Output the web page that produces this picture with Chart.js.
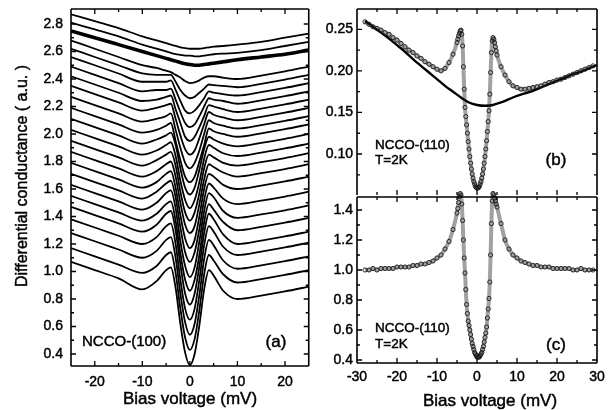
<!DOCTYPE html>
<html>
<head>
<meta charset="utf-8">
<script src="https://cdn.jsdelivr.net/npm/chart.js@4.4.1/dist/chart.umd.min.js"></script>
<style>
html,body{margin:0;padding:0;background:#fff;}
#wrap{position:relative;width:613px;height:410px;overflow:hidden;background:#fff;}
#wrap canvas{position:absolute;}
</style>
</head>
<body>
<div id="wrap">
<canvas id="cA" width="313" height="410" style="left:0;top:0"></canvas>
<canvas id="cB" width="313" height="200" style="left:300px;top:0"></canvas>
<canvas id="cC" width="313" height="220" style="left:300px;top:190px"></canvas>
</div>
<script>
// ---------- Panel (a): NCCO-(100) spectra, bottom curve first ----------
const biasA = [-25,-20,-15,-10,-7,-5,-4,-3,-2,-1,0,1,2,3,4,5,7,10,15,20,25];
const gA00 = [1.07,1.01,0.95,0.87,0.93,1.01,1.03,0.88,0.62,0.41,0.32,0.40,0.61,0.87,1.01,0.97,0.86,0.80,0.825,0.855,0.89];
const gA01 = [1.17,1.11,1.05,0.99,1.04,1.12,1.14,0.99,0.73,0.52,0.43,0.51,0.72,0.98,1.12,1.08,0.98,0.92,0.945,0.975,1.01];
const gA02 = [1.28,1.22,1.16,1.10,1.15,1.23,1.25,1.10,0.84,0.63,0.54,0.62,0.83,1.09,1.23,1.19,1.08,1.02,1.045,1.075,1.11];
const gA03 = [1.38,1.32,1.26,1.20,1.25,1.33,1.35,1.20,0.94,0.73,0.65,0.73,0.94,1.19,1.33,1.29,1.18,1.12,1.145,1.175,1.21];
const gA04 = [1.47,1.41,1.35,1.29,1.34,1.42,1.44,1.30,1.05,0.84,0.76,0.84,1.04,1.28,1.42,1.38,1.27,1.20,1.225,1.255,1.29];
const gA05 = [1.55,1.49,1.43,1.37,1.42,1.49,1.51,1.37,1.13,0.94,0.86,0.94,1.12,1.36,1.49,1.45,1.36,1.30,1.325,1.355,1.39];
const gA06 = [1.63,1.57,1.51,1.45,1.50,1.57,1.59,1.46,1.22,1.04,0.96,1.03,1.22,1.44,1.57,1.54,1.44,1.39,1.415,1.445,1.48];
const gA07 = [1.71,1.65,1.59,1.53,1.58,1.64,1.66,1.54,1.32,1.14,1.07,1.14,1.31,1.52,1.64,1.61,1.53,1.49,1.515,1.545,1.58];
const gA08 = [1.79,1.73,1.67,1.61,1.65,1.71,1.73,1.61,1.41,1.24,1.17,1.23,1.40,1.60,1.71,1.69,1.63,1.60,1.625,1.655,1.69];
const gA09 = [1.87,1.81,1.75,1.69,1.73,1.78,1.80,1.69,1.50,1.34,1.28,1.33,1.49,1.67,1.78,1.76,1.72,1.69,1.715,1.745,1.78];
const gA10 = [1.95,1.89,1.83,1.77,1.81,1.85,1.87,1.77,1.58,1.43,1.37,1.43,1.57,1.75,1.85,1.83,1.79,1.77,1.795,1.825,1.86];
const gA11 = [2.03,1.97,1.91,1.85,1.88,1.92,1.94,1.84,1.66,1.52,1.46,1.52,1.65,1.82,1.92,1.90,1.86,1.84,1.865,1.895,1.93];
const gA12 = [2.11,2.05,1.99,1.93,1.96,1.99,2.01,1.92,1.75,1.61,1.56,1.61,1.74,1.89,1.98,1.96,1.93,1.91,1.935,1.965,2.00];
const gA13 = [2.19,2.13,2.07,2.01,2.03,2.06,2.08,1.95,1.81,1.69,1.65,1.69,1.80,1.92,2.04,2.02,2.00,1.98,2.005,2.035,2.07];
const gA14 = [2.27,2.21,2.15,2.09,2.11,2.13,2.15,2.03,1.90,1.79,1.75,1.79,1.88,2.00,2.10,2.08,2.06,2.04,2.065,2.095,2.13];
const gA15 = [2.35,2.29,2.23,2.17,2.19,2.21,2.22,2.11,1.99,1.89,1.85,1.88,1.97,2.07,2.16,2.14,2.12,2.10,2.125,2.155,2.19];
const gA16 = [2.42,2.36,2.30,2.24,2.25,2.27,2.28,2.18,2.08,1.98,1.95,1.98,2.05,2.13,2.21,2.20,2.18,2.16,2.185,2.215,2.25];
const gA17 = [2.49,2.43,2.37,2.31,2.32,2.32,2.33,2.25,2.16,2.08,2.05,2.07,2.13,2.20,2.26,2.25,2.24,2.22,2.245,2.275,2.31];
const gA18 = [2.56,2.50,2.44,2.38,2.38,2.38,2.39,2.32,2.24,2.17,2.15,2.17,2.21,2.26,2.31,2.30,2.29,2.28,2.305,2.335,2.37];
const gA19 = [2.62,2.56,2.50,2.44,2.43,2.43,2.43,2.38,2.32,2.28,2.26,2.27,2.30,2.33,2.36,2.355,2.35,2.34,2.365,2.395,2.43];
const gA20 = [2.68,2.62,2.56,2.50,2.48,2.46,2.45,2.43,2.41,2.385,2.37,2.375,2.39,2.41,2.42,2.42,2.41,2.40,2.425,2.455,2.49];
const gA21 = [2.75,2.70,2.65,2.60,2.57,2.55,2.54,2.53,2.52,2.51,2.505,2.50,2.50,2.505,2.51,2.515,2.525,2.54,2.56,2.58,2.61];
const gA22 = [2.81,2.76,2.71,2.65,2.62,2.60,2.59,2.58,2.575,2.57,2.57,2.565,2.565,2.57,2.575,2.58,2.585,2.59,2.61,2.64,2.67];
const gA23 = [2.87,2.82,2.77,2.71,2.68,2.66,2.65,2.64,2.63,2.625,2.62,2.62,2.62,2.625,2.63,2.635,2.64,2.65,2.67,2.70,2.73];
const curvesA = [gA00,gA01,gA02,gA03,gA04,gA05,gA06,gA07,gA08,gA09,gA10,gA11,gA12,gA13,gA14,gA15,gA16,gA17,gA18,gA19,gA20,gA21,gA22,gA23];
const thickCurveA = 21;
const xTicksA = [-20,-10,0,10,20];
const xMinorA = [-15,-5,5,15];
const yTicksA = [0.4,0.6,0.8,1.0,1.2,1.4,1.6,1.8,2.0,2.2,2.4,2.6,2.8];
const yMinorA = [0.5,0.7,0.9,1.1,1.3,1.5,1.7,1.9,2.1,2.3,2.5,2.7];

// ---------- Panels (b) and (c): NCCO-(110), T=2K ----------
const biasBC = [-28,-27,-26,-25,-24,-23,-22,-21,-20,-19,-18,-17,-16,-15,-14,-13,-12,-11,-10,-9,-8,-7,-6,
  -5,-4.8,-4.6,-4.4,-4.2,-4,-3.8,-3.6,-3.4,-3.2,-3,-2.8,-2.6,-2.4,-2.2,-2,-1.8,-1.6,-1.4,-1.2,-1,-0.8,-0.6,-0.4,-0.2,0,
  0.2,0.4,0.6,0.8,1,1.2,1.4,1.6,1.8,2,2.2,2.4,2.6,2.8,3,3.2,3.4,3.6,3.8,4,4.2,4.4,4.6,4.8,5,
  6,7,8,9,10,11,12,13,14,15,16,17,18,19,20,21,22,23,24,25,26,27,28,29];
const dataB = [0.259,0.256,0.253,0.251,0.249,0.246,0.244,0.240,0.237,0.233,0.229,0.225,0.222,0.218,0.215,0.211,0.208,0.205,0.202,0.200,0.203,0.210,0.220,
  0.234,0.238,0.242,0.245,0.248,0.249,0.244,0.230,0.205,0.178,0.156,0.145,0.135,0.125,0.115,0.106,0.097,0.089,0.082,0.076,0.071,0.067,0.064,0.061,0.060,0.059,
  0.059,0.060,0.061,0.064,0.067,0.071,0.076,0.082,0.089,0.097,0.106,0.116,0.127,0.139,0.152,0.172,0.198,0.222,0.236,0.240,0.238,0.234,0.229,0.224,0.219,
  0.205,0.195,0.187,0.182,0.180,0.178,0.178,0.179,0.180,0.181,0.182,0.184,0.186,0.187,0.189,0.190,0.192,0.194,0.196,0.198,0.200,0.202,0.204,0.206];
const fitBiasB = [-28,-26,-24,-22,-20,-18,-16,-14,-12,-10,-8,-6,-4,-2,0,2,4,6,8,10,12,14,16,18,20,22,24,26,28,30];
const fitB = [0.260,0.253,0.246,0.239,0.231,0.223,0.214,0.206,0.198,0.190,0.182,0.175,0.168,0.162,0.159,0.158,0.159,0.162,0.166,0.170,0.173,0.176,0.180,0.184,0.188,0.192,0.196,0.199,0.203,0.207];
const dataC = [1.00,1.00,1.01,1.00,1.01,1.01,1.01,1.01,1.02,1.02,1.02,1.02,1.03,1.03,1.04,1.04,1.05,1.06,1.08,1.10,1.14,1.19,1.27,
  1.38,1.41,1.45,1.49,1.51,1.50,1.44,1.33,1.20,1.08,0.98,0.87,0.77,0.71,0.66,0.63,0.60,0.57,0.54,0.51,0.49,0.47,0.45,0.44,0.43,0.42,
  0.42,0.42,0.42,0.43,0.44,0.45,0.47,0.49,0.52,0.55,0.58,0.62,0.68,0.74,0.81,0.92,1.10,1.31,1.46,1.51,1.50,1.48,1.46,1.44,1.42,
  1.31,1.20,1.14,1.10,1.08,1.06,1.05,1.04,1.03,1.03,1.02,1.02,1.02,1.01,1.01,1.01,1.01,1.01,1.00,1.00,1.01,1.00,1.00,1.00];
const xTicksBC = [-30,-20,-10,0,10,20,30];
const xMinorBC = [-25,-15,-5,5,15,25];
const yTicksB = [0.10,0.15,0.20,0.25];
const yMinorB = [0.075,0.125,0.175,0.225];
const yTicksC = [0.4,0.6,0.8,1.0,1.2,1.4];
const yMinorC = [0.5,0.7,0.9,1.1,1.3];

// ---------- helpers ----------
const FONT = "'Liberation Sans', Arial, Helvetica, sans-serif";
Chart.defaults.font.family = FONT;
Chart.defaults.color = '#000';
Chart.defaults.animation = false;
const STROKE = 0.45;

function zeroPad(s){ s.paddingLeft = 0; s.paddingRight = 0; s.paddingTop = 0; s.paddingBottom = 0; }
function pts(xs, ys){ return xs.map((x,k)=>({x:x, y:ys[k]})); }
function tickOpts(pad, cb){
  return { padding: pad, font: { size: 14 }, maxRotation: 0, callback: cb,
           textStrokeColor: '#000', textStrokeWidth: STROKE };
}

function makeFrame(cfg){
  return {
    id: 'frame',
    afterDraw(chart){
      const ctx = chart.ctx, a = chart.chartArea, xs = chart.scales.x, ys = chart.scales.y;
      ctx.save();
      ctx.strokeStyle = '#000';
      ctx.lineWidth = 1.3;
      ctx.beginPath();
      const doX = (vals, len) => vals.forEach(v => {
        const p = xs.getPixelForValue(v);
        if (p <= a.left + 1 || p >= a.right - 1) return;
        ctx.moveTo(p, a.bottom); ctx.lineTo(p, a.bottom - len);
        ctx.moveTo(p, a.top); ctx.lineTo(p, a.top + len);
      });
      const doY = (vals, len) => vals.forEach(v => {
        const p = ys.getPixelForValue(v);
        if (p <= a.top + 1 || p >= a.bottom - 1) return;
        ctx.moveTo(a.left, p); ctx.lineTo(a.left + len, p);
        ctx.moveTo(a.right, p); ctx.lineTo(a.right - len, p);
      });
      doX(cfg.xMajor, 5); doX(cfg.xMinor, 3);
      doY(cfg.yMajor, 5); doY(cfg.yMinor, 3);
      ctx.stroke();
      ctx.lineWidth = 1.6;
      ctx.beginPath();
      ctx.moveTo(a.left, a.top); ctx.lineTo(a.right, a.top);
      ctx.moveTo(a.right, a.top); ctx.lineTo(a.right, a.bottom);
      ctx.moveTo(a.left, a.top); ctx.lineTo(a.left, a.bottom);
      if (!cfg.noBottom) { ctx.moveTo(a.left, a.bottom); ctx.lineTo(a.right, a.bottom); }
      ctx.stroke();
      ctx.restore();
    }
  };
}
function makeTexts(items){
  return {
    id: 'texts',
    afterDraw(chart){
      const ctx = chart.ctx;
      items.forEach(t => {
        ctx.save();
        ctx.font = t.size + 'px ' + FONT;
        ctx.fillStyle = '#000';
        ctx.strokeStyle = '#000';
        ctx.lineWidth = STROKE;
        ctx.textAlign = t.align || 'left';
        ctx.textBaseline = 'middle';
        ctx.translate(t.x, t.y);
        if (t.rot) ctx.rotate(t.rot);
        ctx.fillText(t.text, 0, 0);
        ctx.strokeText(t.text, 0, 0);
        ctx.restore();
      });
    }
  };
}
const baseOpts = {
  responsive: false, animation: false, events: [],
  plugins: { legend: { display: false }, tooltip: { enabled: false } }
};
const circleStyle = { showLine: false, borderColor: '#151515', pointBorderColor: '#151515',
  pointBackgroundColor: 'rgba(255,255,255,0)', pointRadius: 2.1, pointBorderWidth: 0.9, pointStyle: 'circle' };
const bandStyle = { borderColor: 'rgba(30,30,30,0.42)', borderWidth: 4, pointRadius: 0,
  cubicInterpolationMode: 'monotone', fill: false };

// ---------- Chart (a) ----------
new Chart(document.getElementById('cA'), {
  type: 'line',
  data: { datasets: curvesA.map((c, i) => ({
    data: pts(biasA, c),
    borderColor: '#000',
    borderWidth: i === thickCurveA ? 3.6 : 1.8,
    pointRadius: 0,
    cubicInterpolationMode: 'monotone',
    fill: false
  })) },
  options: Object.assign({}, baseOpts, {
    layout: { padding: { left: 0, top: 9, right: 4.25, bottom: 0 } },
    scales: {
      x: {
        type: 'linear', min: -25, max: 25,
        grid: { display: false, drawTicks: false }, border: { display: false },
        ticks: tickOpts(8, v => String(v)),
        afterBuildTicks: s => { s.ticks = xTicksA.map(v => ({ value: v })); },
        afterFit: s => { s.height = 44; zeroPad(s); }
      },
      y: {
        type: 'linear', min: 0.3127, max: 2.909,
        grid: { display: false, drawTicks: false }, border: { display: false },
        ticks: tickOpts(8, v => Number(v).toFixed(1)),
        afterBuildTicks: s => { s.ticks = yTicksA.map(v => ({ value: v })); },
        afterFit: s => { s.width = 71; zeroPad(s); }
      }
    }
  }),
  plugins: [
    makeFrame({ xMajor: xTicksA, xMinor: xMinorA, yMajor: yTicksA, yMinor: yMinorA }),
    makeTexts([
      { text: 'Differential conductance ( a.u. )', x: 23, y: 176, size: 16, align: 'center', rot: -Math.PI / 2 },
      { text: 'Bias voltage (mV)', x: 190, y: 399, size: 17, align: 'center' },
      { text: 'NCCO-(100)', x: 82, y: 342, size: 15 },
      { text: '(a)', x: 276, y: 342, size: 17, align: 'center' }
    ])
  ]
});

// ---------- Chart (b) ----------
new Chart(document.getElementById('cB'), {
  type: 'line',
  data: { datasets: [
    Object.assign({ data: pts(biasBC, dataB) }, bandStyle),
    Object.assign({ data: pts(biasBC, dataB) }, circleStyle),
    { data: pts(fitBiasB, fitB), borderColor: '#000', borderWidth: 2.4, pointRadius: 0,
      cubicInterpolationMode: 'monotone', fill: false }
  ] },
  options: Object.assign({}, baseOpts, {
    layout: { padding: { left: 0, top: 9, right: 16, bottom: 3 } },
    scales: {
      x: { type: 'linear', min: -30, max: 30, display: false },
      y: {
        type: 'linear', min: 0.0506, max: 0.2744,
        grid: { display: false, drawTicks: false }, border: { display: false },
        ticks: tickOpts(4, v => Number(v).toFixed(2)),
        afterBuildTicks: s => { s.ticks = yTicksB.map(v => ({ value: v })); },
        afterFit: s => { s.width = 57; zeroPad(s); }
      }
    }
  }),
  plugins: [
    makeFrame({ xMajor: xTicksBC, xMinor: xMinorBC, yMajor: yTicksB, yMinor: yMinorB, noBottom: true }),
    makeTexts([
      { text: 'NCCO-(110)', x: 75, y: 145, size: 13.5 },
      { text: 'T=2K', x: 75, y: 160, size: 13.5 },
      { text: '(b)', x: 256, y: 160, size: 17, align: 'center' }
    ])
  ]
});

// ---------- Chart (c) ----------
new Chart(document.getElementById('cC'), {
  type: 'line',
  data: { datasets: [
    Object.assign({ data: pts(biasBC, dataC), clip: 6 }, bandStyle),
    Object.assign({ data: pts(biasBC, dataC), clip: 6 }, circleStyle)
  ] },
  options: Object.assign({}, baseOpts, {
    layout: { padding: { left: 0, top: 7, right: 16, bottom: 0 } },
    scales: {
      x: {
        type: 'linear', min: -30, max: 30,
        grid: { display: false, drawTicks: false }, border: { display: false },
        ticks: tickOpts(6, v => String(v)),
        afterBuildTicks: s => { s.ticks = xTicksBC.map(v => ({ value: v })); },
        afterFit: s => { s.height = 47; zeroPad(s); }
      },
      y: {
        type: 'linear', min: 0.38, max: 1.4867,
        grid: { display: false, drawTicks: false }, border: { display: false },
        ticks: tickOpts(4, v => Number(v).toFixed(1)),
        afterBuildTicks: s => { s.ticks = yTicksC.map(v => ({ value: v })); },
        afterFit: s => { s.width = 57; zeroPad(s); }
      }
    }
  }),
  plugins: [
    makeFrame({ xMajor: xTicksBC, xMinor: xMinorBC, yMajor: yTicksC, yMinor: yMinorC }),
    makeTexts([
      { text: 'NCCO-(110)', x: 75, y: 138, size: 13.5 },
      { text: 'T=2K', x: 75, y: 154, size: 13.5 },
      { text: '(c)', x: 256, y: 155, size: 17, align: 'center' },
      { text: 'Bias voltage (mV)', x: 190, y: 211, size: 17, align: 'center' }
    ])
  ]
});
</script>
</body>
</html>
